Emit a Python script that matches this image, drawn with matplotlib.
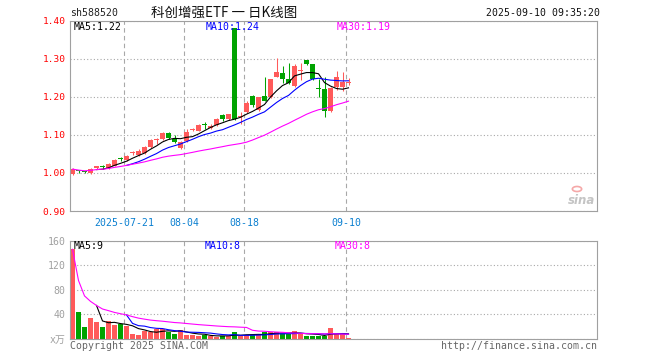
import matplotlib
matplotlib.use("Agg")
import matplotlib.pyplot as plt
import pandas as pd

plt.rcParams['font.family'] = ['DejaVu Sans Mono', 'Noto Sans CJK SC']

# 交易日 (2025-07-08 ~ 2025-09-10)
dates = [
    "2025-07-08", "2025-07-09", "2025-07-10", "2025-07-11", "2025-07-14", "2025-07-15",
    "2025-07-16", "2025-07-17", "2025-07-18", "2025-07-21", "2025-07-22", "2025-07-23",
    "2025-07-24", "2025-07-25", "2025-07-28", "2025-07-29", "2025-07-30", "2025-07-31",
    "2025-08-01", "2025-08-04", "2025-08-05", "2025-08-06", "2025-08-07", "2025-08-08",
    "2025-08-11", "2025-08-12", "2025-08-13", "2025-08-14", "2025-08-15", "2025-08-18",
    "2025-08-19", "2025-08-20", "2025-08-21", "2025-08-22", "2025-08-25", "2025-08-26",
    "2025-08-27", "2025-08-28", "2025-08-29", "2025-09-01", "2025-09-02", "2025-09-03",
    "2025-09-04", "2025-09-05", "2025-09-08", "2025-09-09", "2025-09-10",
]

open_ = [0.998, 1.007, 1.004, 0.999, 1.012, 1.017, 1.013, 1.019, 1.038, 1.034,
         1.052, 1.046, 1.053, 1.067, 1.087, 1.089, 1.106, 1.090, 1.065, 1.084,
         1.113, 1.111, 1.127, 1.119, 1.126, 1.153, 1.141, 1.381, 1.147, 1.160,
         1.203, 1.166, 1.201, 1.199, 1.253, 1.262, 1.248, 1.229, 1.268, 1.296,
         1.285, 1.223, 1.220, 1.162, 1.227, 1.225, 1.236]
high = [1.013, 1.009, 1.006, 1.012, 1.019, 1.021, 1.026, 1.037, 1.041, 1.047,
        1.058, 1.062, 1.070, 1.088, 1.091, 1.108, 1.107, 1.100, 1.083, 1.115,
        1.117, 1.128, 1.133, 1.128, 1.145, 1.156, 1.156, 1.381, 1.159, 1.189,
        1.205, 1.200, 1.253, 1.248, 1.303, 1.280, 1.290, 1.285, 1.289, 1.298,
        1.286, 1.247, 1.252, 1.225, 1.268, 1.264, 1.250]
low = [0.994, 1.001, 0.999, 0.996, 1.010, 1.011, 1.011, 1.017, 1.032, 1.032,
       1.046, 1.045, 1.051, 1.065, 1.077, 1.087, 1.088, 1.078, 1.062, 1.082,
       1.109, 1.110, 1.116, 1.115, 1.124, 1.136, 1.139, 1.140, 1.129, 1.158,
       1.173, 1.164, 1.188, 1.197, 1.251, 1.236, 1.234, 1.227, 1.245, 1.283,
       1.245, 1.199, 1.147, 1.160, 1.219, 1.216, 1.232]
close = [1.010, 1.005, 1.002, 1.010, 1.017, 1.015, 1.023, 1.035, 1.036, 1.045,
         1.054, 1.058, 1.068, 1.086, 1.089, 1.106, 1.091, 1.082, 1.082, 1.107,
         1.115, 1.126, 1.125, 1.124, 1.142, 1.142, 1.155, 1.143, 1.149, 1.183,
         1.178, 1.199, 1.190, 1.247, 1.264, 1.248, 1.236, 1.280, 1.270, 1.285,
         1.247, 1.221, 1.164, 1.224, 1.253, 1.238, 1.239]
# 成交量 (万)
volume = [146, 44.5, 20, 34.5, 28, 20, 30, 23, 24.5, 21.5,
          8.5, 7, 12.5, 11, 16, 16, 11, 8.5, 15, 7,
          6, 4.5, 6.5, 5.5, 3, 5.5, 5.5, 12, 4.5, 7,
          7, 7, 11, 11, 11, 8, 8, 13.5, 8, 5.5,
          5.5, 4.5, 5.5, 18.5, 8, 8, 1.5]

tick_dates = ["2025-07-21", "2025-08-04", "2025-08-18", "2025-09-10"]
tick_labels = ["2025-07-21", "08-04", "08-18", "09-10"]
price_ticks = [0.90, 1.00, 1.10, 1.20, 1.30, 1.40]
vol_ticks = [0, 40, 80, 120, 160]
vol_tick_labels = ["x万", "40", "80", "120", "160"]
price_ma_labels = ["MA5:1.22", "MA10:1.24", "MA30:1.19"]
vol_ma_labels = ["MA5:9", "MA10:8", "MA30:8"]

RED = "#ff5a5a"
GREEN = "#00a300"
FRAME = "#a0a0a0"
W, H = 660, 360

fig = plt.figure(figsize=(6.6, 3.6), dpi=100)


def rect(l, t, r, b):
    return [l / W, 1 - b / H, (r - l) / W, (b - t) / H]


def ftext(x, y, s, **kw):
    kw.setdefault("va", "center")
    kw.setdefault("fontsize", 7.1)
    fig.text(x / W, 1 - y / H, s, **kw)


ax = fig.add_axes(rect(70, 20.7, 597, 211))
axv = fig.add_axes(rect(70, 240.7, 597, 339))

n = len(dates)
x = list(range(n))
colors = [RED if c >= o else GREEN for o, c in zip(open_, close)]
xlim = (-5 / 12, -5 / 12 + 527 / 6)
grid_x = [dates.index(d) - 5 / 12 for d in tick_dates]

# K线
ax.vlines(x, low, high, colors=colors, lw=0.75)
bottoms = [min(o, c) for o, c in zip(open_, close)]
heights = [max(abs(c - o), 0.0025) for o, c in zip(open_, close)]
ax.bar(x, heights, bottom=bottoms, width=5 / 6, color=colors, linewidth=0)

cs = pd.Series(close)
ax.plot(x, cs.rolling(5).mean(), color="black", lw=0.8)
ax.plot(x, cs.rolling(10).mean(), color="#0000ff", lw=0.8)
ax.plot(x, cs.rolling(30, min_periods=1).mean(), color="#ff00ff", lw=0.8)

# 成交量
axv.bar(x, volume, width=5 / 6, color=colors, linewidth=0)
vs = pd.Series(volume)
axv.plot(x, vs.rolling(5).mean(), color="black", lw=0.8)
axv.plot(x, vs.rolling(10).mean(), color="#0000ff", lw=0.8)
axv.plot(x, vs.rolling(30, min_periods=1).mean(), color="#ff00ff", lw=0.8)

for a in (ax, axv):
    a.set_xlim(*xlim)
    a.set_xticks(grid_x)
    a.grid(axis="x", color="#a8a8a8", lw=0.8, linestyle=(0, (4, 3)))
    a.grid(axis="y", color="#a8a8a8", lw=0.8, linestyle=(0, (1, 2)))
    a.set_axisbelow(True)
    for s in a.spines.values():
        s.set_color(FRAME)
        s.set_linewidth(0.8)

ax.set_ylim(0.90, 1.40)
ax.set_yticks(price_ticks)
ax.set_yticklabels([f"{v:.2f}" for v in price_ticks])
ax.set_xticklabels(tick_labels)
ax.tick_params(axis="y", length=0, pad=3, labelsize=6.8, labelcolor="#ff0000")
ax.tick_params(axis="x", length=0, pad=5, labelsize=7.1, labelcolor="#0a7fd0")

axv.set_ylim(0, 160)
axv.set_yticks(vol_ticks)
axv.set_yticklabels(vol_tick_labels)
axv.set_xticklabels([])
axv.tick_params(axis="y", length=0, pad=3, labelsize=7.1, labelcolor="#a0a0a0")
axv.tick_params(axis="x", length=0)

# 文字
ftext(70, 13, "sh588520", color="#222222")
ftext(224, 12.5, "科创增强ETF 一 日K线图", ha="center", fontsize=9.7,
      family=["Noto Sans CJK SC"], color="#111111")
ftext(600, 13, "2025-09-10 09:35:20", ha="right", color="#111111")

for lx, s, c in zip([74, 206, 337], price_ma_labels, ["black", "#0000ff", "#ff00ff"]):
    ftext(lx, 26.5, s, color=c)
for lx, s, c in zip([74, 205, 335], vol_ma_labels, ["black", "#0000ff", "#ff00ff"]):
    ftext(lx, 246, s, color=c)

ftext(70, 346, "Copyright 2025 SINA.COM", color="#666666")
ftext(597, 346, "http://finance.sina.com.cn", ha="right", color="#666666")

# sina 水印
ftext(582, 200, "sina", ha="center", fontsize=8.5, style="italic", weight="bold",
      color="#c4c4c4", family=["DejaVu Sans"])
fig.add_artist(plt.Circle((577 / W, 1 - 189 / H), 0.007, color="#f5a8a8",
                          transform=fig.transFigure, fill=False, lw=1.2))

fig.savefig("out.png", dpi=100)
